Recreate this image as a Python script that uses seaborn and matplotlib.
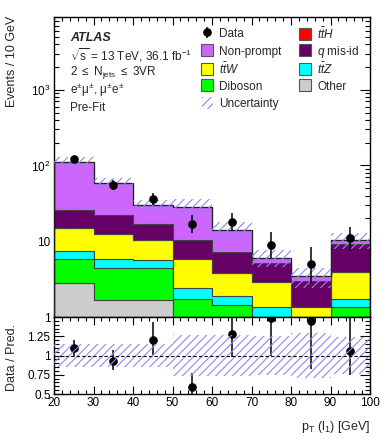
import numpy as np
import pandas as pd
import matplotlib
matplotlib.use("Agg")
import matplotlib.pyplot as plt
import seaborn as sns
from matplotlib.lines import Line2D
from matplotlib.patches import Patch, Rectangle
from matplotlib.legend_handler import HandlerPatch
from matplotlib.ticker import (FixedLocator, MultipleLocator, NullFormatter,
                               FixedFormatter, FuncFormatter)

# ---------------- data ----------------
bin_edges = [20, 30, 40, 50, 60, 70, 80, 90, 100]
bin_centers = [25, 35, 45, 55, 65, 75, 85, 95]
# processes from top of the stack to bottom
processes = ["Non-prompt", "q mis-id", "ttW", "ttZ", "Diboson", "Other", "ttH"]
nonprompt = [86.0, 37.0, 12.9, 18.0, 6.9, 0.95, 0.47, 1.1]
qmisid = [10.8, 9.4, 6.6, 4.6, 3.37, 2.24, 1.64, 5.36]
ttw = [7.5, 6.7, 4.9, 3.5, 1.94, 1.52, 0.49, 2.23]
ttz = [1.7, 1.4, 1.1, 0.66, 0.45, 0.54, 0.25, 0.37]
diboson = [3.0, 2.83, 2.83, 1.13, 1.04, 0.5, 0.35, 1.04]
other = [2.5, 1.47, 1.47, 0.45, 0.3, 0.2, 0.2, 0.2]
tth = [0.3, 0.2, 0.2, 0.15, 0.1, 0.1, 0.05, 0.1]
data = [122, 55, 36, 17, 18, 9, 5, 11]
data_err_lo = [11.0, 7.4, 6.0, 4.1, 4.2, 2.96, 2.16, 3.3]
data_err_hi = [12.1, 8.5, 7.1, 5.2, 5.3, 4.1, 3.38, 4.4]
rel_unc = [0.15, 0.15, 0.15, 0.26, 0.27, 0.25, 0.29, 0.24]

colors = {"Non-prompt": "#cc66ff", "q mis-id": "#660066", "ttW": "#ffff00",
          "ttZ": "#00ffff", "Diboson": "#00ff00", "Other": "#cccccc",
          "ttH": "#ff0000"}
labels = {"Non-prompt": "Non-prompt", "q mis-id": "$q$ mis-id",
          "ttW": r"$t\bar{t}W$", "ttZ": r"$t\bar{t}Z$", "Diboson": "Diboson",
          "Other": "Other", "ttH": r"$t\bar{t}H$"}
hatch_color = "#8a8af0"

series = {"Non-prompt": nonprompt, "q mis-id": qmisid, "ttW": ttw, "ttZ": ttz,
          "Diboson": diboson, "Other": other, "ttH": tth}
rows = []
for p in processes:
    for c, v in zip(bin_centers, series[p]):
        rows.append({"pt": c, "process": p, "events": v})
df = pd.DataFrame(rows)

total = np.sum([np.array(series[p]) for p in processes], axis=0)
data_a = np.array(data, dtype=float)
unc = np.array(rel_unc)

# ---------------- style ----------------
sns.set_style("ticks")
plt.rcParams["font.family"] = ["Liberation Sans", "DejaVu Sans"]
plt.rcParams["mathtext.fontset"] = "custom"
plt.rcParams["mathtext.rm"] = "Liberation Sans"
plt.rcParams["mathtext.it"] = "Liberation Sans:italic"
plt.rcParams["mathtext.bf"] = "Liberation Sans:bold"
plt.rcParams["hatch.linewidth"] = 0.8
plt.rcParams["axes.linewidth"] = 1.0

W, H = 390, 440
fig = plt.figure(figsize=(W / 100, H / 100), dpi=100)

def fx(px):
    return px / W

def fy(py):
    return 1 - py / H

ax = fig.add_axes([fx(54), fy(317), fx(370) - fx(54), fy(17) - fy(317)])
rax = fig.add_axes([fx(54), fy(394), fx(370) - fx(54), fy(317) - fy(394)])

# ---------------- main panel ----------------
ax.set_yscale("log")
sns.histplot(data=df, x="pt", weights="events", hue="process",
             hue_order=processes, palette=colors, bins=bin_edges,
             multiple="stack", element="step", fill=True, alpha=1,
             edgecolor="#444444", linewidth=0.8, legend=False, ax=ax)
ax.stairs(total, bin_edges, color="#222222", linewidth=0.9, zorder=3)
ax.stairs(total * (1 + unc), bin_edges, baseline=total * (1 - unc), fill=True,
          facecolor="none", edgecolor=hatch_color, hatch="////",
          linewidth=0, zorder=4)
data_cont = ax.errorbar(bin_centers, data_a, yerr=[data_err_lo, data_err_hi],
                        fmt="o", color="black", markersize=5.2,
                        elinewidth=1.1, capsize=0, zorder=5)

ax.set_xlim(20, 100)
ax.set_ylim(1, 10 ** 3.96)
ax.set_xlabel("")
ax.set_ylabel("")
ax.yaxis.set_major_locator(FixedLocator([1, 10, 100, 1000]))
ax.yaxis.set_major_formatter(FixedFormatter(["1", "10", "$10^{2}$", "$10^{3}$"]))
minors = [m * 10 ** e for e in range(0, 4) for m in range(2, 10)]
ax.yaxis.set_minor_locator(FixedLocator(minors))
ax.yaxis.set_minor_formatter(NullFormatter())
ax.xaxis.set_major_locator(MultipleLocator(10))
ax.xaxis.set_minor_locator(MultipleLocator(2))
ax.tick_params(axis="x", labelbottom=False)

for a in (ax, rax):
    a.tick_params(which="both", direction="in", top=True, right=True,
                  width=0.8, labelsize=8.5, pad=2.5, colors="black")
    a.tick_params(axis="x", which="major", length=6)
    a.tick_params(axis="x", which="minor", length=3)
    a.tick_params(axis="y", which="major", length=7.5)
    a.tick_params(axis="y", which="minor", length=3.8)
    for s in a.spines.values():
        s.set_color("black")
        s.set_linewidth(1.0)

# ---------------- ratio panel ----------------
ratio = data_a / total
rax.errorbar(bin_centers, ratio,
             yerr=[np.array(data_err_lo) / total, np.array(data_err_hi) / total],
             fmt="o", color="black", markersize=5.2, elinewidth=1.1, capsize=0,
             zorder=3)
rax.stairs(1 + unc, bin_edges, baseline=1 - unc, fill=True, facecolor="none",
           edgecolor=hatch_color, hatch="////", linewidth=0, zorder=4)
rax.axhline(1, color="black", linestyle=(0, (3, 2)), linewidth=0.8, zorder=5)
rax.set_xlim(20, 100)
rax.set_ylim(0.5, 1.5)
rax.yaxis.set_major_locator(MultipleLocator(0.25))
rax.yaxis.set_major_formatter(
    FuncFormatter(lambda v, p: "" if v > 1.4 else "%g" % v))
rax.yaxis.set_minor_locator(MultipleLocator(0.05))
rax.xaxis.set_major_locator(MultipleLocator(10))
rax.xaxis.set_minor_locator(MultipleLocator(2))
rax.tick_params(axis="x", pad=2)

# ---------------- texts ----------------
fig.text(fx(12), fy(16), "Events / 10 GeV", rotation=90, ha="center", va="top",
         fontsize=9)
fig.text(fx(12), fy(357), "Data / Pred.", rotation=90, ha="center",
         va="center", fontsize=9)
fig.text(fx(370), fy(427), r"p$_{\mathrm{T}}$ (l$_{1}$) [GeV]", ha="right",
         va="center", fontsize=9)

fig.text(fx(70), fy(38), "ATLAS", fontsize=9, fontweight="bold",
         fontstyle="italic", va="center")
fig.text(fx(70), fy(55), r"$\sqrt{\mathrm{s}}$ = 13 TeV, 36.1 fb$^{-1}$",
         fontsize=8.5, va="center")
fig.text(fx(70), fy(73), r"2 $\leq$ N$_{\mathrm{jets}}$ $\leq$ 3VR",
         fontsize=8.5, va="center")
fig.text(fx(70), fy(90), "e$^{\\pm}$μ$^{\\pm}$, μ$^{\\pm}$e$^{\\pm}$",
         fontsize=8.5, va="center")
fig.text(fx(70), fy(108), "Pre-Fit", fontsize=8.5, va="center")

# ---------------- legend (one entry per legend, placed on a grid) ----------
def box(p):
    return Line2D([], [], marker="s", markersize=8.8, linestyle="none",
                  markerfacecolor=colors[p], markeredgecolor="#555555",
                  markeredgewidth=0.8)

def small_rect(legend, orig_handle, xdescent, ydescent, width, height,
               fontsize):
    s = 8.6
    return Rectangle((-xdescent + (width - s) / 2, -ydescent + (height - s) / 2),
                     s, s)

unc_h = Patch(facecolor="none", edgecolor=hatch_color, hatch="////",
              linewidth=0)
entries = [
    (data_cont, "Data", 0, 0), (box("ttH"), labels["ttH"], 1, 0),
    (box("Non-prompt"), "Non-prompt", 0, 1),
    (box("q mis-id"), labels["q mis-id"], 1, 1),
    (box("ttW"), labels["ttW"], 0, 2), (box("ttZ"), labels["ttZ"], 1, 2),
    (box("Diboson"), "Diboson", 0, 3), (box("Other"), "Other", 1, 3),
    (unc_h, "Uncertainty", 0, 4),
]
col_x = [201, 299]
row_y = [34, 51.5, 69, 86.5, 104]
for i, (h, lab, c, r) in enumerate(entries):
    lg = ax.legend([h], [lab], loc="center left",
                   bbox_to_anchor=(fx(col_x[c]), fy(row_y[r])),
                   bbox_transform=fig.transFigure, frameon=False,
                   fontsize=8.5, borderpad=0, borderaxespad=0,
                   handlelength=1.1, handleheight=1.1, handletextpad=0.45,
                   handler_map={Patch: HandlerPatch(patch_func=small_rect)})
    if i < len(entries) - 1:
        ax.add_artist(lg)

fig.savefig("out.png", dpi=100)
